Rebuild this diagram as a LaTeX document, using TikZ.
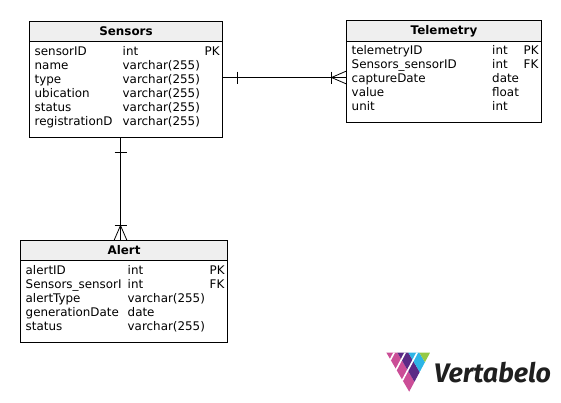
\documentclass[tikz,border=0pt]{standalone}
\usepackage{fontspec}
\setmainfont{DejaVu Sans}
\newfontfamily\logofont{Fira Sans}
\definecolor{hdr}{HTML}{EFEFEF}
\definecolor{lgpink}{HTML}{CB4E97}
\definecolor{lgpurple}{HTML}{5B2A86}
\definecolor{lgblue}{HTML}{2DB5E6}
\definecolor{lggreen}{HTML}{95C945}
\tikzset{
  x=1pt,y=-1pt,
  tablebox/.style={draw=black,line width=0.9pt,inner sep=0pt,rectangle},
  hdrbox/.style={draw=black,line width=0.9pt,fill=hdr,inner sep=0pt,rectangle,font=\fontsize{11.9}{14}\selectfont\bfseries},
  cell/.style={anchor=base west,inner sep=0pt,font=\fontsize{11.9}{14}\selectfont},
  rel/.style={draw=black,line width=0.8pt},
}
\begin{document}
\begin{tikzpicture}
\useasboundingbox (0,0) rectangle (561,402);
% Sensors
\node[tablebox,minimum width=193pt,minimum height=116pt] (sensors) at (126,79.5) {};
\node[hdrbox,minimum width=193pt,minimum height=20pt] (sensorsh) at (126,31.5) {Sensors};
\foreach \n/\a/\c [count=\i from 0] in {sensorID/int/PK,name/varchar(255)/,type/varchar(255)/,ubication/varchar(255)/,status/varchar(255)/,registrationD/varchar(255)/}{
  \node[cell] (s\i a) at (34.5,{55+14*\i}) {\n};
  \node[cell] (s\i b) at (122.5,{55+14*\i}) {\a};
  \node[cell] (s\i c) at (204.5,{55+14*\i}) {\c};
}
% Telemetry
\node[tablebox,minimum width=195pt,minimum height=102pt] (telemetry) at (444,71.5) {};
\node[hdrbox,minimum width=195pt,minimum height=21pt] (telemetryh) at (444,31) {Telemetry};
\foreach \n/\a/\c [count=\i from 0] in {telemetryID/int/PK,Sensors\_sensorID/int/FK,captureDate/date/,value/float/,unit/int/}{
  \node[cell] (t\i a) at (351.5,{54+14*\i}) {\n};
  \node[cell] (t\i b) at (492,{54+14*\i}) {\a};
  \node[cell] (t\i c) at (523.5,{54+14*\i}) {\c};
}
% Alert
\node[tablebox,minimum width=207pt,minimum height=102pt] (alert) at (124,291.5) {};
\node[hdrbox,minimum width=207pt,minimum height=20pt] (alerth) at (124,250.5) {Alert};
\foreach \n/\a/\c [count=\i from 0] in {alertID/int/PK,Sensors\_sensorI/int/FK,alertType/varchar(255)/,generationDate/date/,status/varchar(255)/}{
  \node[cell] (a\i a) at (25.5,{274+14*\i}) {\n};
  \node[cell] (a\i b) at (127.5,{274+14*\i}) {\a};
  \node[cell] (a\i c) at (209.5,{274+14*\i}) {\c};
}
% connectors
\coordinate (rs) at (222.5,77.5);
\coordinate (rt) at (346.5,77.5);
\coordinate (vs) at (120.5,137.5);
\coordinate (va) at (120.5,240.5);
\draw[rel] (rs) -- (rt);
\draw[rel] (237.5,71.5) -- (237.5,83.5);
\draw[rel] (331.5,71.5) -- (331.5,83.5);
\draw[rel] (346.5,71) -- (331.5,77.5) -- (346.5,84);
\draw[rel] (vs) -- (va);
\draw[rel] (114.5,152.5) -- (126.5,152.5);
\draw[rel] (114.5,225.5) -- (126.5,225.5);
\draw[rel] (114,240.5) -- (120.5,225.5) -- (127,240.5);
% logo
\begin{scope}
\clip (386,352.7) -- (430,352.7) -- (409,392) -- cycle;
\foreach \col/\k in {lgpink/0,lgpurple/1,lgblue/2,lggreen/3}{
  \fill[\col] ({386+11*\k},352) -- ({397+11*\k},352) -- ({421+11*\k},393) -- ({410+11*\k},393) -- cycle;
}
\foreach \t in {394.5,405.5,417.5}{
  \draw[white,line width=1.6pt] (\t,352) -- ({\t-24},397);
}
\end{scope}
\node[font=\logofont\bfseries\itshape\fontsize{26.8}{30}\selectfont,text=black!88,inner sep=0pt,anchor=base west] (logo) at (434,382) {Vertabelo};
\end{tikzpicture}
\end{document}
